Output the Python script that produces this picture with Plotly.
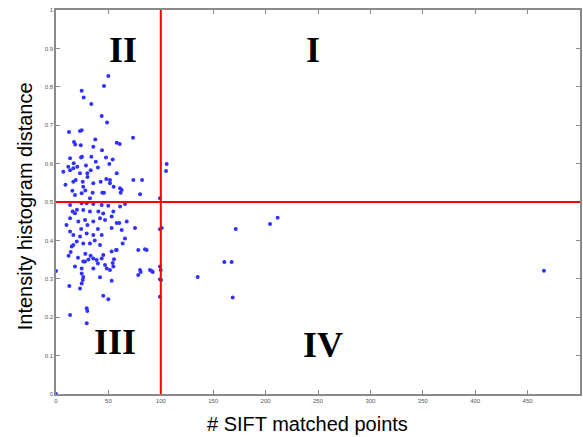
import plotly.graph_objects as go

# SIFT matched points (x) and intensity histogram distance (y)
sift_points = [
    49.9, 45.8, 24.5, 26.4, 33.7, 43.6, 48.7, 12.4, 22.9, 24.5, 17.2, 18.4, 23.6, 37.5, 35.6, 57.9, 60.8, 73.5, 43.9,
    13.4, 23.9, 24.8, 33.7, 47.7, 54.1, 50.9, 16.9, 11.7, 20.3, 7.0, 13.4, 16.5, 28.6, 33.1, 29.9, 22.9, 57.9,
    18.8, 25.5, 35.6, 42.6, 51.5, 61.1, 62.7, 61.7, 15.6, 26.0, 35.0, 44.2, 45.8, 24.5, 80.2, 73.8, 82.1,
    105.6, 105.0, 99.2, 16.5, 51.5, 18.1, 32.4, 30.0, 40.0, 9.0, 38.0, 55.0, 28.0, 48.0,
    13.4, 24.5, 29.3, 35.6, 43.6, 49.9, 15.9, 18.1, 26.0, 32.4, 40.4, 54.7, 61.1, 65.8,
    13.4, 21.3, 27.7, 35.6, 42.0, 46.8, 53.1, 57.9, 67.5, 75.4, 62.7, 13.4, 16.5, 22.9, 29.3, 35.6, 43.6,
    19.8, 26.0, 32.4, 42.0, 15.0, 16.5, 65.8, 78.5, 86.5, 57.9, 53.1, 45.1, 35.6, 38.8, 43.6, 26.0, 27.7,
    18.1, 24.5, 35.6, 48.4, 51.5, 54.7, 46.8, 80.2, 89.7, 78.5, 24.5, 26.0, 25.5, 24.5, 42.0, 53.1,
    12.7, 22.9, 45.1, 49.9, 29.3, 29.9, 13.4, 29.3, 99.2, 99.2, 100.2, 99.2,
    53.1, 60.4, 63.6, 57.3, 55.3, 54.1, 80.8, 92.3, 84.9, 91.3, 99.9, 99.2, 100.9,
    21.0, 31.0, 40.0, 33.0, 14.0, 37.0, 24.0, 30.0, 40.0, 20.0, 45.0, 10.0, 12.0, 28.0,
    135.2, 160.6, 167.6, 168.6, 171.5, 204.2, 211.5, 465.6, 0.0, 0.0,
]
hist_distance = [
    0.828, 0.802, 0.790, 0.772, 0.755, 0.724, 0.707, 0.682, 0.685, 0.687, 0.656, 0.650, 0.648, 0.663, 0.644, 0.654, 0.651, 0.667, 0.635,
    0.614, 0.616, 0.618, 0.618, 0.616, 0.611, 0.599, 0.601, 0.592, 0.592, 0.579, 0.583, 0.588, 0.595, 0.583, 0.575, 0.575, 0.575,
    0.557, 0.553, 0.549, 0.553, 0.557, 0.536, 0.531, 0.524, 0.529, 0.540, 0.524, 0.524, 0.524, 0.523, 0.520, 0.557, 0.557,
    0.599, 0.581, 0.510, 0.553, 0.549, 0.518, 0.510, 0.565, 0.590, 0.545, 0.605, 0.540, 0.530, 0.560,
    0.492, 0.497, 0.497, 0.495, 0.492, 0.490, 0.475, 0.471, 0.479, 0.475, 0.475, 0.475, 0.488, 0.495,
    0.458, 0.449, 0.453, 0.449, 0.458, 0.453, 0.462, 0.445, 0.449, 0.432, 0.427, 0.423, 0.414, 0.410, 0.418, 0.414, 0.414,
    0.397, 0.392, 0.392, 0.388, 0.384, 0.388, 0.405, 0.375, 0.375, 0.375, 0.371, 0.362, 0.353, 0.349, 0.353, 0.345, 0.345,
    0.332, 0.327, 0.327, 0.327, 0.323, 0.332, 0.336, 0.323, 0.323, 0.310, 0.314, 0.305, 0.297, 0.288, 0.304, 0.295,
    0.281, 0.275, 0.256, 0.247, 0.223, 0.216, 0.206, 0.184, 0.429, 0.332, 0.297, 0.253,
    0.432, 0.445, 0.392, 0.375, 0.351, 0.341, 0.318, 0.318, 0.377, 0.320, 0.323, 0.299, 0.432,
    0.355, 0.350, 0.340, 0.360, 0.370, 0.400, 0.430, 0.440, 0.430, 0.480, 0.470, 0.440, 0.360, 0.365,
    0.305, 0.344, 0.344, 0.251, 0.430, 0.443, 0.459, 0.321, 0.320, 0.0,
]

x_threshold = 100
y_threshold = 0.5
x_ticks = [0, 50, 100, 150, 200, 250, 300, 350, 400, 450, 500]
y_ticks = [0, 0.1, 0.2, 0.3, 0.4, 0.5, 0.6, 0.7, 0.8, 0.9, 1]
quadrant_labels = ["I", "II", "III", "IV"]
quadrant_x = [245, 64, 56, 255]
quadrant_y = [0.896, 0.896, 0.135, 0.128]

fig = go.Figure()
fig.add_trace(go.Scatter(
    x=sift_points, y=hist_distance, mode="markers",
    marker=dict(color="rgb(50,50,255)", size=4, line=dict(width=0)),
    showlegend=False, cliponaxis=False,
))

fig.add_shape(type="line", x0=x_threshold, x1=x_threshold, y0=0, y1=1,
              xref="x", yref="y", line=dict(color="red", width=2))
fig.add_shape(type="line", x0=0, x1=500, y0=y_threshold, y1=y_threshold,
              xref="x", yref="y", line=dict(color="red", width=2))

annotations = []
for lab, qx, qy in zip(quadrant_labels, quadrant_x, quadrant_y):
    annotations.append(dict(x=qx, y=qy, xref="x", yref="y", text="<b>%s</b>" % lab,
                            showarrow=False,
                            font=dict(family="Liberation Serif", size=36, color="black")))

annotations.append(dict(x=-0.085, y=0.49, xref="paper", yref="paper", text="Intensity histogram distance",
                        textangle=-90, showarrow=False,
                        font=dict(family="Liberation Sans", size=20, color="black")))
annotations.append(dict(x=(307 - 56) / 524, y=-0.078, xref="paper", yref="paper", text="# SIFT matched points",
                        showarrow=False, yanchor="middle",
                        font=dict(family="Liberation Sans", size=20, color="black")))

axis_common = dict(showgrid=False, zeroline=False, showline=True, linecolor="#8a8a8a",
                   linewidth=1.5, mirror="ticks", ticks="inside", ticklen=4,
                   tickcolor="#8a8a8a", tickfont=dict(family="Liberation Sans", size=6, color="#555"))

fig.update_xaxes(range=[0, 500], tickvals=x_ticks, ticktext=[str(v) for v in x_ticks], **axis_common)
fig.update_yaxes(range=[0, 1], tickvals=y_ticks, ticktext=[("%g" % v) for v in y_ticks], **axis_common)

fig.update_layout(
    width=583, height=437,
    margin=dict(l=56, r=3, t=10, b=43, autoexpand=False),
    paper_bgcolor="white", plot_bgcolor="white",
    annotations=annotations,
)

fig.write_html("out.html", config={"displayModeBar": False},
               post_script="document.body.style.margin='0';document.body.style.overflow='hidden';")
